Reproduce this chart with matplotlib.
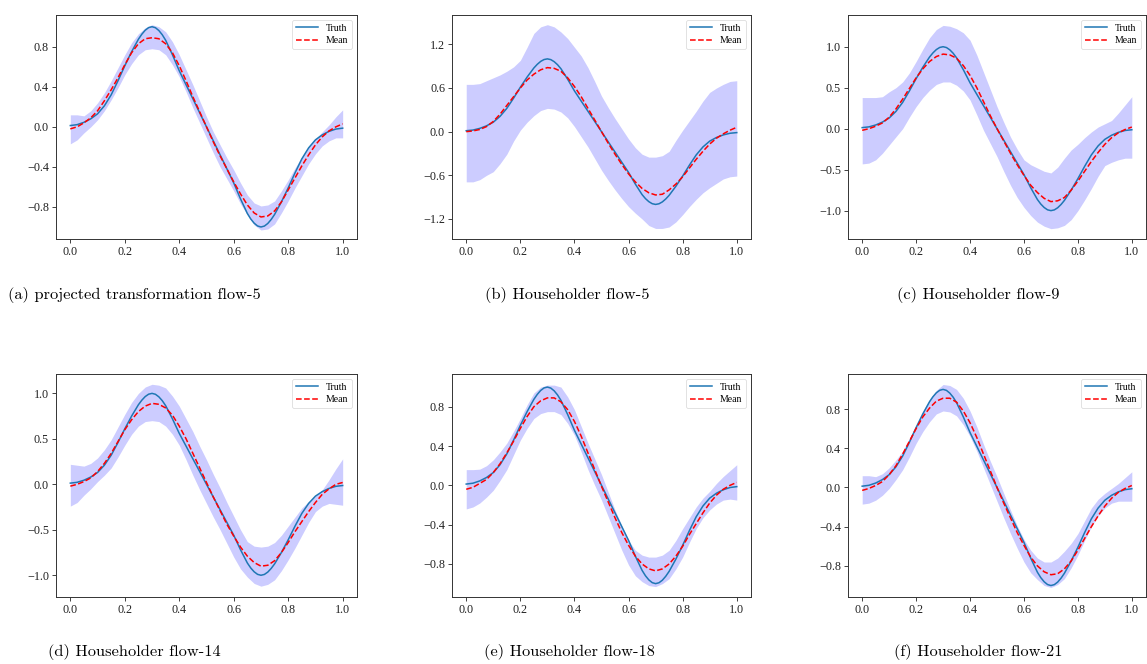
import matplotlib
matplotlib.use("Agg")
import matplotlib.pyplot as plt

# ---------------- data ----------------
x_vals = [0.000, 0.025, 0.050, 0.075, 0.100, 0.125, 0.150, 0.175, 0.200, 0.225,
          0.250, 0.275, 0.300, 0.325, 0.350, 0.375, 0.400, 0.425, 0.450, 0.475,
          0.500, 0.525, 0.550, 0.575, 0.600, 0.625, 0.650, 0.675, 0.700, 0.725,
          0.750, 0.775, 0.800, 0.825, 0.850, 0.875, 0.900, 0.925, 0.950, 0.975, 1.000]

x_truth = [0.000, 0.025, 0.050, 0.075, 0.100, 0.125, 0.150, 0.175, 0.200, 0.225,
           0.250, 0.2625, 0.275, 0.2875, 0.300, 0.3125, 0.325, 0.3375, 0.350, 0.375,
           0.400, 0.425, 0.450, 0.475, 0.500, 0.525, 0.550, 0.575, 0.600, 0.625,
           0.650, 0.6625, 0.675, 0.6875, 0.700, 0.7125, 0.725, 0.7375, 0.750, 0.775,
           0.800, 0.825, 0.850, 0.875, 0.900, 0.925, 0.950, 0.975, 1.000]
truth = [0.013, 0.022, 0.045, 0.080, 0.130, 0.210, 0.320, 0.460, 0.610, 0.750,
         0.875, 0.925, 0.965, 0.991, 1.000, 0.990, 0.962, 0.920, 0.865, 0.720,
         0.560, 0.420, 0.280, 0.140, 0.000, -0.140, -0.280, -0.420, -0.560, -0.720,
         -0.865, -0.920, -0.962, -0.990, -1.000, -0.991, -0.965, -0.925, -0.875, -0.750,
         -0.610, -0.460, -0.320, -0.210, -0.130, -0.080, -0.045, -0.022, -0.013]

captions = ["(a) projected transformation flow-5", "(b) Householder flow-5",
            "(c) Householder flow-9", "(d) Householder flow-14",
            "(e) Householder flow-18", "(f) Householder flow-21"]

mean_a = [-0.02, 0.00, 0.04, 0.09, 0.16, 0.26, 0.37, 0.49, 0.62, 0.74,
          0.83, 0.88, 0.89, 0.88, 0.83, 0.74, 0.61, 0.46, 0.30, 0.15,
          0.00, -0.15, -0.29, -0.42, -0.55, -0.67, -0.78, -0.86, -0.90, -0.89,
          -0.84, -0.75, -0.63, -0.51, -0.39, -0.28, -0.18, -0.10, -0.04, 0.00, 0.03]
lower_a = [-0.17, -0.13, -0.06, 0.00, 0.07, 0.16, 0.27, 0.39, 0.52, 0.63,
           0.72, 0.77, 0.78, 0.77, 0.72, 0.62, 0.50, 0.35, 0.19, 0.04,
           -0.11, -0.26, -0.40, -0.52, -0.64, -0.77, -0.88, -0.98, -1.03, -1.02,
           -0.97, -0.86, -0.74, -0.61, -0.49, -0.37, -0.27, -0.19, -0.14, -0.11, -0.11]
upper_a = [0.12, 0.12, 0.11, 0.16, 0.24, 0.34, 0.46, 0.59, 0.72, 0.84,
           0.93, 0.99, 1.02, 1.00, 0.95, 0.85, 0.72, 0.57, 0.42, 0.26,
           0.10, -0.05, -0.18, -0.31, -0.43, -0.56, -0.68, -0.76, -0.79, -0.78,
           -0.74, -0.64, -0.53, -0.41, -0.30, -0.20, -0.12, -0.05, 0.02, 0.10, 0.17]

mean_b = [0.00, 0.01, 0.03, 0.07, 0.14, 0.24, 0.36, 0.48, 0.60, 0.71,
          0.79, 0.85, 0.88, 0.87, 0.83, 0.74, 0.62, 0.48, 0.32, 0.16,
          0.00, -0.16, -0.31, -0.45, -0.58, -0.69, -0.78, -0.84, -0.87, -0.86,
          -0.80, -0.72, -0.62, -0.50, -0.38, -0.27, -0.17, -0.09, -0.03, 0.02, 0.06]
lower_b = [-0.69, -0.69, -0.66, -0.60, -0.55, -0.44, -0.31, -0.13, 0.02, 0.13,
           0.22, 0.29, 0.32, 0.31, 0.27, 0.19, 0.07, -0.07, -0.21, -0.37,
           -0.53, -0.67, -0.80, -0.92, -1.03, -1.12, -1.20, -1.29, -1.33, -1.33,
           -1.31, -1.24, -1.14, -1.03, -0.93, -0.84, -0.77, -0.71, -0.65, -0.62, -0.61]
upper_b = [0.65, 0.65, 0.66, 0.70, 0.74, 0.78, 0.83, 0.89, 0.98, 1.16,
           1.35, 1.44, 1.47, 1.44, 1.37, 1.28, 1.16, 1.04, 0.88, 0.69,
           0.49, 0.33, 0.18, 0.04, -0.10, -0.22, -0.31, -0.35, -0.35, -0.33,
           -0.27, -0.12, 0.02, 0.15, 0.28, 0.42, 0.54, 0.60, 0.65, 0.69, 0.70]

mean_c = [-0.02, 0.00, 0.03, 0.07, 0.14, 0.24, 0.36, 0.49, 0.62, 0.73,
          0.82, 0.88, 0.91, 0.90, 0.86, 0.77, 0.65, 0.50, 0.33, 0.16,
          0.00, -0.15, -0.30, -0.44, -0.57, -0.69, -0.78, -0.85, -0.89, -0.88,
          -0.84, -0.75, -0.64, -0.52, -0.40, -0.29, -0.19, -0.11, -0.05, -0.01, 0.02]
lower_c = [-0.43, -0.42, -0.38, -0.30, -0.20, -0.10, 0.00, 0.14, 0.27, 0.38,
           0.47, 0.54, 0.57, 0.57, 0.53, 0.46, 0.35, 0.17, -0.02, -0.18,
           -0.34, -0.52, -0.69, -0.84, -0.96, -1.06, -1.14, -1.19, -1.22, -1.21,
           -1.18, -1.11, -1.00, -0.87, -0.73, -0.58, -0.45, -0.41, -0.38, -0.36, -0.36]
upper_c = [0.38, 0.38, 0.38, 0.39, 0.45, 0.50, 0.57, 0.68, 0.82, 0.97,
           1.11, 1.21, 1.26, 1.25, 1.22, 1.17, 1.08, 0.90, 0.69, 0.48,
           0.27, 0.08, -0.10, -0.25, -0.38, -0.44, -0.48, -0.52, -0.54, -0.47,
           -0.36, -0.26, -0.19, -0.11, -0.04, 0.02, 0.06, 0.10, 0.19, 0.29, 0.39]

mean_d = [-0.02, 0.00, 0.03, 0.07, 0.14, 0.23, 0.34, 0.47, 0.60, 0.71,
          0.80, 0.86, 0.89, 0.88, 0.84, 0.76, 0.64, 0.50, 0.34, 0.18,
          0.02, -0.14, -0.29, -0.44, -0.57, -0.69, -0.79, -0.86, -0.90, -0.89,
          -0.84, -0.75, -0.64, -0.52, -0.41, -0.30, -0.20, -0.11, -0.05, 0.00, 0.02]
lower_d = [-0.24, -0.20, -0.12, -0.05, 0.03, 0.10, 0.18, 0.30, 0.43, 0.55,
           0.64, 0.69, 0.70, 0.69, 0.64, 0.55, 0.43, 0.27, 0.10, -0.06,
           -0.21, -0.36, -0.50, -0.65, -0.80, -0.93, -1.02, -1.09, -1.12, -1.10,
           -1.05, -0.95, -0.83, -0.70, -0.56, -0.42, -0.30, -0.24, -0.21, -0.22, -0.23]
upper_d = [0.22, 0.21, 0.20, 0.23, 0.29, 0.38, 0.49, 0.63, 0.77, 0.90,
           1.00, 1.07, 1.10, 1.09, 1.06, 0.97, 0.86, 0.72, 0.58, 0.42,
           0.27, 0.11, -0.04, -0.20, -0.35, -0.50, -0.63, -0.68, -0.69, -0.68,
           -0.64, -0.56, -0.46, -0.36, -0.26, -0.19, -0.13, -0.06, 0.05, 0.17, 0.28]

mean_e = [-0.04, -0.02, 0.02, 0.06, 0.13, 0.22, 0.33, 0.45, 0.58, 0.70,
          0.80, 0.86, 0.89, 0.89, 0.85, 0.77, 0.65, 0.50, 0.33, 0.16,
          -0.01, -0.17, -0.33, -0.48, -0.61, -0.72, -0.80, -0.85, -0.87, -0.85,
          -0.80, -0.72, -0.62, -0.50, -0.39, -0.28, -0.18, -0.10, -0.04, 0.00, 0.03]
lower_e = [-0.24, -0.22, -0.18, -0.12, -0.05, 0.05, 0.16, 0.31, 0.46, 0.58,
           0.68, 0.73, 0.75, 0.75, 0.72, 0.63, 0.51, 0.34, 0.16, 0.00,
           -0.15, -0.32, -0.49, -0.66, -0.81, -0.92, -0.98, -1.02, -1.03, -1.00,
           -0.95, -0.85, -0.73, -0.58, -0.44, -0.33, -0.25, -0.19, -0.15, -0.14, -0.15]
upper_e = [0.16, 0.16, 0.165, 0.20, 0.26, 0.34, 0.43, 0.55, 0.68, 0.82,
           0.94, 1.00, 1.02, 1.02, 1.00, 0.90, 0.77, 0.60, 0.43, 0.27,
           0.11, -0.07, -0.25, -0.41, -0.56, -0.66, -0.71, -0.73, -0.73, -0.71,
           -0.66, -0.56, -0.44, -0.33, -0.22, -0.13, -0.06, 0.02, 0.09, 0.15, 0.21]

mean_f = [-0.03, -0.01, 0.02, 0.06, 0.13, 0.22, 0.34, 0.47, 0.60, 0.72,
          0.81, 0.88, 0.91, 0.91, 0.87, 0.78, 0.66, 0.51, 0.34, 0.17,
          0.00, -0.16, -0.31, -0.46, -0.59, -0.71, -0.80, -0.86, -0.89, -0.88,
          -0.83, -0.75, -0.64, -0.52, -0.40, -0.29, -0.19, -0.11, -0.05, -0.01, 0.02]
lower_f = [-0.17, -0.16, -0.13, -0.08, -0.01, 0.08, 0.18, 0.31, 0.45, 0.57,
           0.67, 0.75, 0.78, 0.77, 0.73, 0.64, 0.52, 0.37, 0.20, 0.03,
           -0.14, -0.31, -0.47, -0.62, -0.76, -0.87, -0.94, -1.00, -1.02, -0.99,
           -0.93, -0.82, -0.69, -0.54, -0.40, -0.29, -0.21, -0.16, -0.14, -0.14, -0.14]
upper_f = [0.12, 0.12, 0.11, 0.14, 0.20, 0.28, 0.37, 0.50, 0.64, 0.78,
           0.90, 0.99, 1.05, 1.04, 1.00, 0.91, 0.78, 0.62, 0.44, 0.27,
           0.11, -0.06, -0.23, -0.39, -0.53, -0.64, -0.72, -0.76, -0.76, -0.72,
           -0.65, -0.57, -0.47, -0.34, -0.21, -0.12, -0.06, -0.01, 0.04, 0.10, 0.16]

means = [mean_a, mean_b, mean_c, mean_d, mean_e, mean_f]
lowers = [lower_a, lower_b, lower_c, lower_d, lower_e, lower_f]
uppers = [upper_a, upper_b, upper_c, upper_d, upper_e, upper_f]

x_ticks = [0.0, 0.2, 0.4, 0.6, 0.8, 1.0]
y_ticks = [[-0.8, -0.4, 0.0, 0.4, 0.8],
           [-1.2, -0.6, 0.0, 0.6, 1.2],
           [-1.0, -0.5, 0.0, 0.5, 1.0],
           [-1.0, -0.5, 0.0, 0.5, 1.0],
           [-0.8, -0.4, 0.0, 0.4, 0.8],
           [-0.8, -0.4, 0.0, 0.4, 0.8]]

# ---------------- layout ----------------
W, H = 1147, 664
ylims = [(-1.12, 1.117), (-1.475, 1.603), (-1.346, 1.387),
         (-1.239, 1.213), (-1.136, 1.133), (-1.117, 1.157)]
# axes boxes in pixels: left, top, right, bottom
boxes = [(56, 15, 357, 239), (452, 15, 751, 239), (848, 15, 1146, 239),
         (56, 374, 357, 597), (452, 374, 751, 597), (848, 374, 1146, 597)]
cap_pos = [(134, 295), (567, 295), (978, 295), (134, 652), (569, 652), (978, 652)]

plt.rcParams['font.family'] = ['Liberation Serif', 'DejaVu Serif']

fig = plt.figure(figsize=(W / 100, H / 100), dpi=100)
for i in range(6):
    l, t, r, b = boxes[i]
    ax = fig.add_axes([l / W, (H - b) / H, (r - l) / W, (b - t) / H])
    ax.fill_between(x_vals, lowers[i], uppers[i], color='blue', alpha=0.2, linewidth=0)
    ax.plot(x_truth, truth, color='#1f77b4', lw=1.1, label='Truth')
    ax.plot(x_vals, means[i], color='red', ls='--', lw=1.1, label='Mean')
    ax.set_xlim(-0.0526, 1.0526)
    ax.set_ylim(*ylims[i])
    ax.set_xticks(x_ticks)
    ax.set_yticks(y_ticks[i])
    ax.set_xticklabels([f"{v:.1f}" for v in x_ticks])
    ax.set_yticklabels([f"{v:.1f}".replace('-', '\u2212') for v in y_ticks[i]])
    ax.tick_params(labelsize=8.7, length=3, width=0.6, pad=2, colors='#222222')
    for s in ax.spines.values():
        s.set_linewidth(0.7)
        s.set_color('#333333')
    leg = ax.legend(loc='upper right', fontsize=7, handlelength=2.2,
                    borderpad=0.4, labelspacing=0.35, handletextpad=0.85,
                    borderaxespad=0.5, fancybox=True, framealpha=0.8)
    leg.get_frame().set_linewidth(0.5)
    cx, cy = cap_pos[i]
    fig.text(cx / W, (H - cy) / H, captions[i], family='cmr10', fontsize=11.8,
             ha='center', va='center')

fig.savefig('out.png', dpi=100)
